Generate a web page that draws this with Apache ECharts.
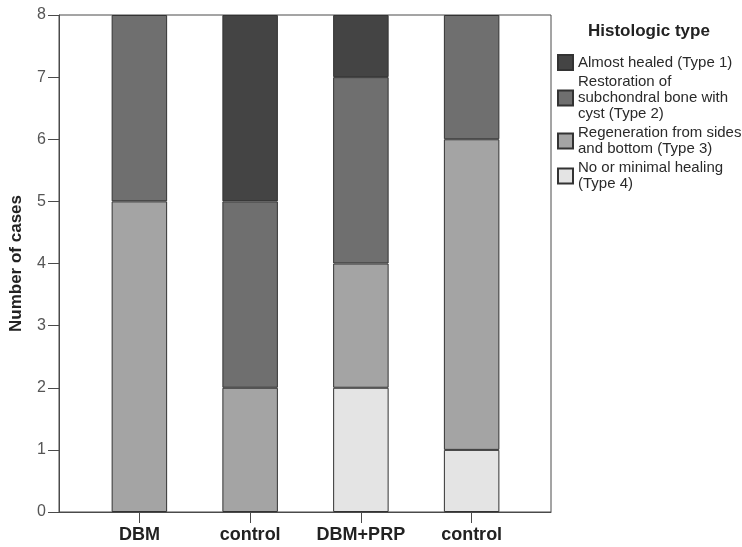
<!DOCTYPE html>
<html>
<head>
<meta charset="utf-8">
<title>Histologic type by group</title>
<script src="https://cdn.jsdelivr.net/npm/echarts@6/dist/echarts.min.js"></script>
<style>
  html, body { margin: 0; padding: 0; background: #ffffff; }
  #chart { width: 742px; height: 547px; }
</style>
</head>
<body>
<div id="chart"></div>
<script>
// Groups along the x axis
const categories = ['DBM', 'control', 'DBM+PRP', 'control'];

// Number of cases per histologic type, one value per group
const type1Cases = [0, 3, 1, 0]; // Almost healed
const type2Cases = [3, 3, 3, 2]; // Restoration of subchondral bone with cyst
const type3Cases = [5, 2, 2, 5]; // Regeneration from sides and bottom
const type4Cases = [0, 0, 2, 1]; // No or minimal healing

// Legend labels (wrapped as in the legend box)
const typeLabels = [
  'Almost healed (Type 1)',
  'Restoration of\nsubchondral bone with\ncyst (Type 2)',
  'Regeneration from sides\nand bottom (Type 3)',
  'No or minimal healing\n(Type 4)'
];

// Y axis range and tick step
const yMin = 0;
const yMax = 8;
const yStep = 1;

const FONT = "'Liberation Sans', Arial, Helvetica, sans-serif";
const AXIS_COLOR = '#4a4a4a';
const fills = ['#444444', '#6f6f6f', '#a4a4a4', '#e4e4e4'];

// Stack order bottom to top: Type 4, Type 3, Type 2, Type 1
const stackOrder = [
  { values: type4Cases, label: typeLabels[3], color: fills[3] },
  { values: type3Cases, label: typeLabels[2], color: fills[2] },
  { values: type2Cases, label: typeLabels[1], color: fills[1] },
  { values: type1Cases, label: typeLabels[0], color: fills[0] }
];

const chart = echarts.init(document.getElementById('chart'), null, { renderer: 'canvas' });

// Two grids share the same vertical extent: grid 0 is the framed plot with the
// y axis, grid 1 is the narrower band where the category bars sit.
const gridBox = { top: 15, bottom: 35, containLabel: false, outerBoundsMode: 'none' };

chart.setOption({
  animation: false,
  backgroundColor: '#ffffff',
  title: {
    text: 'Histologic type',
    left: 588,
    top: 23,
    padding: 0,
    textStyle: { fontFamily: FONT, fontSize: 17, fontWeight: 'bold', color: '#222222' }
  },
  legend: {
    orient: 'vertical',
    left: 557,
    top: 54,
    padding: 0,
    itemWidth: 15,
    itemHeight: 15,
    itemGap: 3,
    icon: 'rect',
    selectedMode: false,
    data: typeLabels.slice(),
    textStyle: { fontFamily: FONT, fontSize: 15, lineHeight: 16, color: '#2a2a2a' }
  },
  grid: [
    Object.assign({ left: 59, right: 191, show: true, borderColor: AXIS_COLOR, borderWidth: 1,
                    backgroundColor: 'transparent' }, gridBox),
    Object.assign({ left: 84, right: 215, show: false }, gridBox)
  ],
  xAxis: [
    {
      gridIndex: 0,
      type: 'value',
      min: 0,
      max: 1,
      splitLine: { show: false },
      axisLine: { show: true, onZero: false, lineStyle: { color: AXIS_COLOR, width: 1 } },
      axisTick: { show: false },
      axisLabel: { show: false }
    },
    {
      gridIndex: 1,
      type: 'category',
      data: categories,
      axisLine: { show: false },
      axisTick: { show: true, interval: 0, alignWithLabel: true, length: 11, lineStyle: { color: AXIS_COLOR } },
      axisLabel: {
        interval: 0,
        hideOverlap: false,
        margin: 14,
        fontFamily: FONT,
        fontSize: 18,
        fontWeight: 'bold',
        color: '#222222'
      }
    }
  ],
  yAxis: [
    {
      gridIndex: 0,
      type: 'value',
      min: yMin,
      max: yMax,
      interval: yStep,
      name: 'Number of cases',
      nameLocation: 'middle',
      nameRotate: 90,
      nameGap: 34,
      nameTextStyle: { fontFamily: FONT, fontSize: 17, fontWeight: 'bold', color: '#222222' },
      splitLine: { show: false },
      axisLine: { show: true, lineStyle: { color: AXIS_COLOR, width: 1 } },
      axisTick: { show: true, length: 11, lineStyle: { color: AXIS_COLOR } },
      axisLabel: { margin: 13, fontFamily: FONT, fontSize: 16, color: '#555555' }
    },
    {
      gridIndex: 1,
      type: 'value',
      min: yMin,
      max: yMax,
      interval: yStep,
      show: false,
      splitLine: { show: false }
    }
  ],
  series: stackOrder.map((s) => ({
    type: 'bar',
    name: s.label,
    xAxisIndex: 1,
    yAxisIndex: 1,
    stack: 'cases',
    barWidth: 55.5,
    data: s.values.map((v) => (v === 0 ? '-' : v)),
    itemStyle: { color: s.color, borderColor: '#333333', borderWidth: 1 },
    emphasis: { disabled: true }
  }))
});
</script>
</body>
</html>
